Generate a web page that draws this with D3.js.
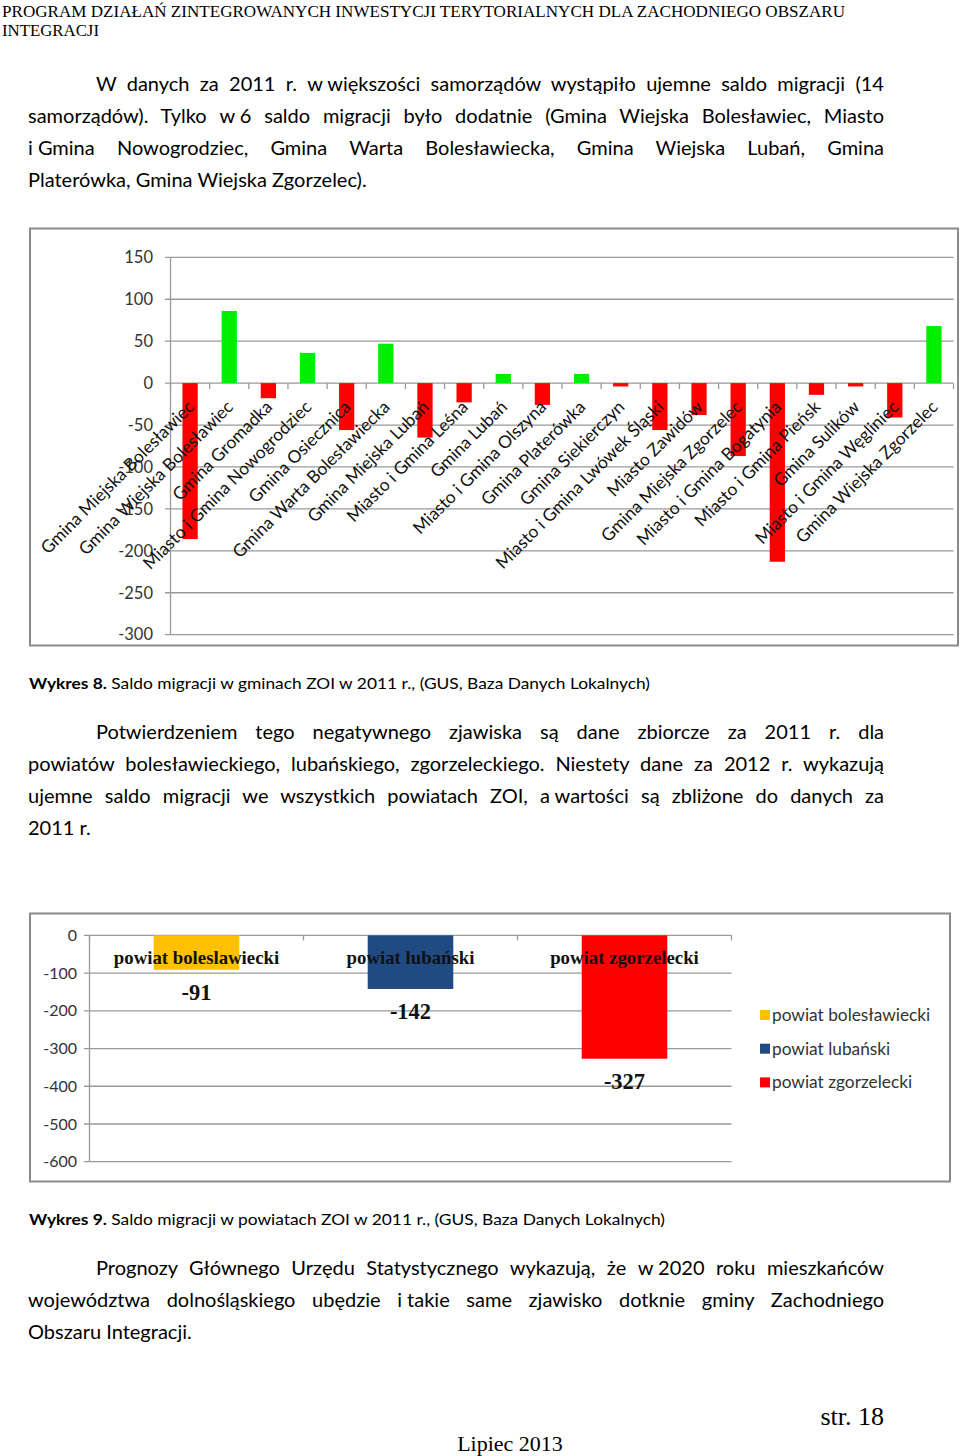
<!DOCTYPE html>
<html><head><meta charset="utf-8">
<script src="https://cdn.jsdelivr.net/npm/d3@7"></script>
<style>
body{margin:0;background:#fff;}
#page{position:relative;width:960px;height:1456px;overflow:hidden;background:#fff;}
#page svg{position:absolute;left:0;top:0;}
.para{position:absolute;left:28px;width:856px;font-family:Lato,'Open Sans',sans-serif;font-size:20px;color:#000;}
.line{height:32px;line-height:32px;white-space:normal;}
.j{text-align:justify;text-align-last:justify;}
.ind{padding-left:68px;}
.nb{display:inline-block;white-space:pre;}
</style></head>
<body><div id="page"></div>
<script>
// ---------- data ----------
const gminy = ["Gmina Miejska Bolesławiec","Gmina Wiejska Bolesławiec","Gmina Gromadka","Miasto i Gmina Nowogrodziec","Gmina Osiecznica","Gmina Warta Bolesławiecka","Gmina Miejska Lubań","Miasto i Gmina Leśna","Gmina Lubań","Miasto i Gmina Olszyna","Gmina Platerówka","Gmina Siekierczyn","Miasto i Gmina Lwówek Śląski","Miasto Zawidów","Gmina Miejska Zgorzelec","Miasto i Gmina Bogatynia","Miasto i Gmina Pieńsk","Gmina Sulików","Miasto i Gmina Węgliniec","Gmina Wiejska Zgorzelec"];
const saldoGminy = [-186,86,-18,36,-56,47,-65,-23,11,-26,11,-4,-56,-38,-87,-213,-14,-4,-41,68];
const yTicks1 = [150,100,50,0,-50,-100,-150,-200,-250,-300];

const powiaty = ["powiat bolesławiecki","powiat lubański","powiat zgorzelecki"];
const powiatyEtykiety = ["powiat boleslawiecki","powiat lubański","powiat zgorzelecki"];
const saldoPowiaty = [-91,-142,-327];
const koloryPowiaty = ["#FFC000","#1F4A82","#FF0000"];
const yTicks2 = [0,-100,-200,-300,-400,-500,-600];

const naglowek = ["PROGRAM DZIAŁAŃ ZINTEGROWANYCH INWESTYCJI TERYTORIALNYCH DLA ZACHODNIEGO OBSZARU","INTEGRACJI"];
// "|" marks a space that is not stretched by justification
const akapit1 = ["W danych za 2011 r. w|większości samorządów wystąpiło ujemne saldo migracji (14","samorządów). Tylko w|6 saldo migracji było dodatnie (Gmina Wiejska Bolesławiec, Miasto","i|Gmina Nowogrodziec, Gmina Warta Bolesławiecka, Gmina Wiejska Lubań, Gmina","Platerówka, Gmina Wiejska Zgorzelec)."];
const akapit2 = ["Potwierdzeniem tego negatywnego zjawiska są dane zbiorcze za 2011 r. dla","powiatów bolesławieckiego, lubańskiego, zgorzeleckiego. Niestety dane za 2012 r. wykazują","ujemne saldo migracji we wszystkich powiatach ZOI, a|wartości są zbliżone do danych za","2011 r."];
const akapit3 = ["Prognozy Głównego Urzędu Statystycznego wykazują, że w|2020 roku mieszkańców","województwa dolnośląskiego ubędzie i|takie same zjawisko dotknie gminy Zachodniego","Obszaru Integracji."];
const podpis8 = ["Wykres 8.", " Saldo migracji w gminach ZOI w 2011 r., (GUS, Baza Danych Lokalnych)"];
const podpis9 = ["Wykres 9.", " Saldo migracji w powiatach ZOI w 2011 r., (GUS, Baza Danych Lokalnych)"];

// ---------- page ----------
const page = d3.select("#page");
const svg = page.append("svg").attr("width",960).attr("height",1456);
const sans = "Lato, 'Open Sans', sans-serif";
const serif = "'Liberation Serif','Times New Roman',serif";

// header
svg.selectAll("text.hdr").data(naglowek).join("text")
  .attr("x",2).attr("y",(d,i)=>17+i*19)
  .attr("font-family",serif).attr("font-size",17)
  .attr("textLength",(d,i)=>i===0?843:97).attr("lengthAdjust","spacingAndGlyphs")
  .text(d=>d);

function paragraph(lines, top){
  const p = page.append("div").attr("class","para").style("top",top+"px");
  p.selectAll("div").data(lines).join("div")
    .attr("class",(d,i)=>"line"+(i<lines.length-1?" j":"")+(i===0?" ind":""))
    .each(function(d){
      const el = d3.select(this);
      d.split(" ").forEach((w,k,arr)=>{
        if(w.includes("|")) el.append("span").attr("class","nb").text(w.replace("|"," "));
        else el.append("span").text(w);
        if(k<arr.length-1) el.append("span").text(" ");
      });
    });
}
paragraph(akapit1, 67);
paragraph(akapit2, 715);
paragraph(akapit3, 1251);

function caption(parts, y, len){
  const t = svg.append("text").attr("x",29).attr("y",y).attr("font-family",sans).attr("font-size",16)
    .attr("textLength",len).attr("lengthAdjust","spacingAndGlyphs");
  t.append("tspan").attr("font-weight","bold").text(parts[0]);
  t.append("tspan").text(parts[1]);
}
caption(podpis8, 689, 621);
caption(podpis9, 1225, 636);

svg.append("text").attr("x",884).attr("y",1425).attr("text-anchor","end")
  .attr("font-family",serif).attr("font-size",26).text("str. 18");
svg.append("text").attr("x",510).attr("y",1451).attr("text-anchor","middle")
  .attr("font-family",serif).attr("font-size",22).text("Lipiec 2013");

// ---------- chart 1 ----------
const c1 = svg.append("g");
c1.append("rect").attr("x",30).attr("y",228.5).attr("width",928).attr("height",417)
  .attr("fill","#fff").attr("stroke","#8a8a8a").attr("stroke-width",2);
const y1 = d3.scaleLinear().domain([-300,150]).range([634.7,257.3]);
const x1 = d3.scaleBand().domain(gminy).range([170.5,953.5]).paddingInner(0.61).paddingOuter(0.305);
c1.append("g").selectAll("line").data(yTicks1).join("line")
  .attr("x1",165).attr("x2",953.5).attr("y1",d=>y1(d)).attr("y2",d=>y1(d))
  .attr("stroke","#9a9a9a").attr("stroke-width",1.3);
c1.append("line").attr("x1",170.5).attr("x2",170.5).attr("y1",y1(150)).attr("y2",y1(-300))
  .attr("stroke","#9a9a9a").attr("stroke-width",1.3);
c1.append("g").selectAll("text").data(yTicks1).join("text")
  .attr("x",153).attr("y",d=>y1(d)).attr("dy","0.35em").attr("text-anchor","end")
  .attr("font-family",sans).attr("font-size",16.5).attr("fill","#333").text(d=>d);
c1.append("g").selectAll("rect").data(saldoGminy).join("rect")
  .attr("x",(d,i)=>x1(gminy[i])).attr("width",x1.bandwidth())
  .attr("y",d=>y1(Math.max(0,d))).attr("height",d=>Math.abs(y1(d)-y1(0)))
  .attr("fill",d=>d>=0?"#00EE00":"#FF0000");
const step1 = x1.step();
c1.append("g").selectAll("line").data(d3.range(gminy.length+1)).join("line")
  .attr("x1",i=>170.5+i*step1).attr("x2",i=>170.5+i*step1)
  .attr("y1",y1(0)).attr("y2",y1(0)+6).attr("stroke","#9a9a9a").attr("stroke-width",1.3);
c1.append("g").selectAll("text").data(gminy).join("text")
  .attr("transform",d=>`translate(${x1(d)+x1.bandwidth()/2+5},${y1(0)+25}) rotate(-45)`)
  .attr("text-anchor","end").attr("font-family",sans).attr("font-size",17.4).attr("fill","#111")
  .text(d=>d);

// ---------- chart 2 ----------
const c2 = svg.append("g");
c2.append("rect").attr("x",30).attr("y",913.5).attr("width",920).attr("height",268)
  .attr("fill","#fff").attr("stroke","#8a8a8a").attr("stroke-width",2);
const y2 = d3.scaleLinear().domain([-600,0]).range([1161.7,935.4]);
const x2 = d3.scaleBand().domain(powiaty).range([89.5,731.5]).paddingInner(0.6).paddingOuter(0.3);
c2.append("g").selectAll("line").data(yTicks2).join("line")
  .attr("x1",84).attr("x2",731.5).attr("y1",d=>y2(d)).attr("y2",d=>y2(d))
  .attr("stroke","#9a9a9a").attr("stroke-width",1.3);
c2.append("line").attr("x1",89.5).attr("x2",89.5).attr("y1",y2(0)).attr("y2",y2(-600))
  .attr("stroke","#9a9a9a").attr("stroke-width",1.3);
c2.append("g").selectAll("text").data(yTicks2).join("text")
  .attr("x",77).attr("y",d=>y2(d)).attr("dy","0.35em").attr("text-anchor","end")
  .attr("font-family",sans).attr("font-size",16).attr("fill","#333").text(d=>d);
const step2 = x2.step();
c2.append("g").selectAll("line").data(d3.range(powiaty.length+1)).join("line")
  .attr("x1",i=>89.5+i*step2).attr("x2",i=>89.5+i*step2)
  .attr("y1",y2(0)).attr("y2",y2(0)+5).attr("stroke","#9a9a9a").attr("stroke-width",1.3);
c2.append("g").selectAll("rect").data(saldoPowiaty).join("rect")
  .attr("x",(d,i)=>x2(powiaty[i])).attr("width",x2.bandwidth())
  .attr("y",y2(0)).attr("height",d=>y2(d)-y2(0))
  .attr("fill",(d,i)=>koloryPowiaty[i]);
c2.append("g").selectAll("text").data(powiatyEtykiety).join("text")
  .attr("x",(d,i)=>x2(powiaty[i])+x2.bandwidth()/2).attr("y",y2(0)+29)
  .attr("text-anchor","middle").attr("font-family",serif).attr("font-weight","bold")
  .attr("font-size",18.8).attr("fill","#111").text(d=>d);
c2.append("g").selectAll("text").data(saldoPowiaty).join("text")
  .attr("x",(d,i)=>x2(powiaty[i])+x2.bandwidth()/2).attr("y",d=>y2(d)+30)
  .attr("text-anchor","middle").attr("font-family",serif).attr("font-weight","bold")
  .attr("font-size",22.5).attr("fill","#111").text(d=>d);
const lg = c2.append("g").selectAll("g").data(powiaty).join("g")
  .attr("transform",(d,i)=>`translate(760,${1015+i*33.7})`);
lg.append("rect").attr("x",0).attr("y",-5).attr("width",10).attr("height",10)
  .attr("fill",(d,i)=>koloryPowiaty[i]);
lg.append("text").attr("x",12).attr("dy","0.35em").attr("font-family",sans).attr("font-size",17.3)
  .attr("fill","#333").text(d=>d);
</script></body></html>
